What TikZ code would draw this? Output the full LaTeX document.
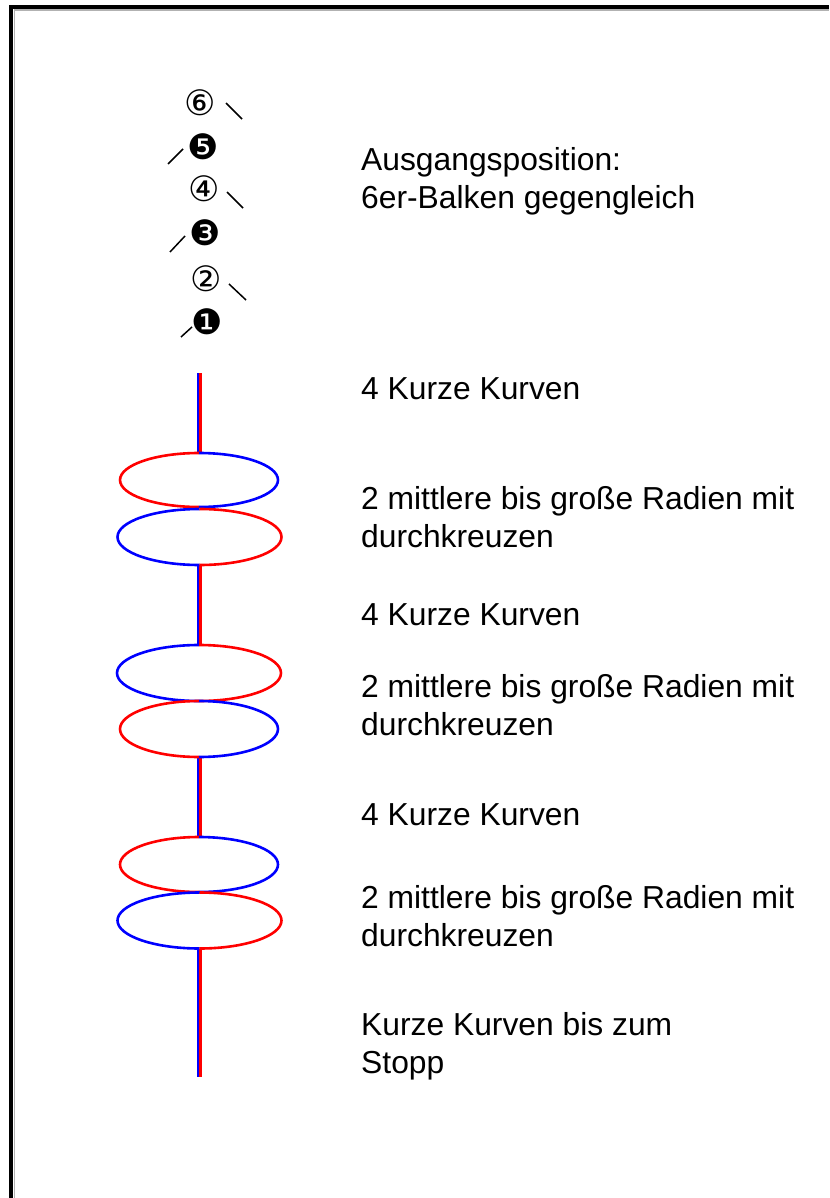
\documentclass[tikz,border=0pt]{standalone}
\usepackage{fontspec}
\setmainfont{Liberation Sans}
\newfontfamily\dejavu{DejaVu Sans}
\newcommand\drawell[6]{%
  \draw[#1] (#3,#4-#6) arc[start angle=270,end angle=90,x radius=#5,y radius=#6];
  \draw[#2] (#3,#4-#6) arc[start angle=270,end angle=450,x radius=#5,y radius=#6];}
\newcommand\vseg[2]{%
  \draw[bl] (198,#1) -- (198,#2);
  \draw[rd] (200.5,#1) -- (200.5,#2);}
\begin{document}
\begin{tikzpicture}[x=1pt,y=-1pt,
  txt/.style={anchor=base west, inner sep=0pt, font=\fontsize{31.8}{38}\selectfont, align=left},
  num/.style={inner sep=0pt, font=\dejavu\fontsize{35}{35}\selectfont},
  tick/.style={draw=black, line width=1.5pt},
  bl/.style={draw=blue, line width=2.6pt},
  rd/.style={draw=red, line width=2.6pt}]
\useasboundingbox (0,0) rectangle (829,1198);
% frame
\draw[gray!60, line width=1.2pt] (14.1,1198) -- (14.1,10) -- (829,10);
\draw[black, line width=4.5pt, line join=miter] (11.2,1198) -- (11.2,7.2) -- (829,7.2);
% numbers
\node[num] (n6) at (200,103) {⑥};
\node[num] (n5) at (203,147) {❺};
\node[num] (n4) at (204,189) {④};
\node[num] (n3) at (205,233) {❸};
\node[num] (n2) at (206,279) {②};
\node[num] (n1) at (207,322) {❶};
\draw[tick] (226,103) -- (242,119);
\draw[tick] (183,149) -- (168,164);
\draw[tick] (227,192) -- (243,208);
\draw[tick] (185,236) -- (170,252);
\draw[tick] (229,284) -- (246,300);
\draw[tick] (192,327) -- (181,337);
% ribbon
\vseg{373}{453}
\vseg{565}{645}
\vseg{757}{837}
\vseg{949}{1077}
\drawell{rd}{bl}{199}{480}{79}{27}
\drawell{bl}{rd}{199.5}{537}{82}{28}
\drawell{bl}{rd}{199}{673}{82}{28}
\drawell{rd}{bl}{199}{729}{79}{28}
\drawell{rd}{bl}{199}{864.5}{79}{27.5}
\drawell{bl}{rd}{199.5}{920.5}{82}{28}
% texts (base anchor = last line)
\node[txt] (t1) at (361,209) {Ausgangsposition:\\6er-Balken gegengleich};
\node[txt] (t2) at (361,399) {4 Kurze Kurven};
\node[txt] (t3) at (361,547) {2 mittlere bis große Radien mit\\durchkreuzen};
\node[txt] (t4) at (361,625) {4 Kurze Kurven};
\node[txt] (t5) at (361,735) {2 mittlere bis große Radien mit\\durchkreuzen};
\node[txt] (t6) at (361,825) {4 Kurze Kurven};
\node[txt] (t7) at (361,946) {2 mittlere bis große Radien mit\\durchkreuzen};
\node[txt] (t8) at (361,1073) {Kurze Kurven bis zum\\Stopp};
\end{tikzpicture}
\end{document}
